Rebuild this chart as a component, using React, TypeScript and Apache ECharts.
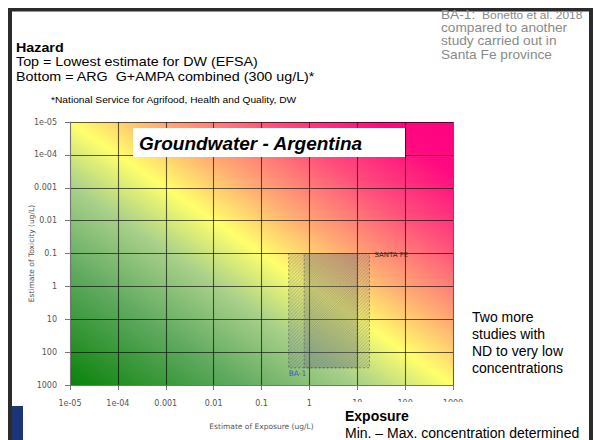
import React, { useEffect, useRef } from 'react';
import * as echarts from 'echarts';

// ---- data ----
const TICK_LABELS = ['1e-05', '1e-04', '0.001', '0.01', '0.1', '1', '10', '100', '1000'];
const AXIS_MIN = 1e-5;
const AXIS_MAX = 1000;

const STUDIES = ['BA-1', 'SANTA FE'];
const EXPOSURE_MIN = [0.37, 0.78];
const EXPOSURE_MAX = [10, 18];
const TOXICITY_MIN = [0.1, 0.1];
const TOXICITY_MAX = [300, 300];

const HAZARD_LINES = [
  'Top = Lowest estimate for DW (EFSA)',
  'Bottom = ARG  G+AMPA combined (300 ug/L)*',
];
const SOURCE_HEAD = 'BA-1:';
const SOURCE_REF = 'Bonetto et al. 2018';
const SOURCE_LINES = ['compared to another', 'study carried out in', 'Santa Fe province'];
const NOTE_LINES = ['Two more', 'studies with', 'ND to very low', 'concentrations'];

// ---- style ----
const GRADIENT_STOPS = [
  { offset: 0, color: '#0a820a' },
  { offset: 0.22, color: '#5fa95f' },
  { offset: 0.38, color: '#a9d08a' },
  { offset: 0.5, color: '#ffff6c' },
  { offset: 0.62, color: '#ffa874' },
  { offset: 0.76, color: '#ff4f7c' },
  { offset: 0.9, color: '#ff0a80' },
  { offset: 1, color: '#ff0080' },
];
const SLIDE_FONT = '"Liberation Sans", Arial, sans-serif';
const PLOT_FONT = '"DejaVu Sans", sans-serif';
const FRAME_COLOR = '#2b2b2b';

function tickLabel(v: number) {
  const e = Math.round(Math.log10(v));
  return TICK_LABELS[e + 5] ?? '';
}

export default function App() {
  const ref = useRef<HTMLDivElement>(null);

  useEffect(() => {
    if (!ref.current) return;
    const chart = echarts.init(ref.current, undefined, { renderer: 'svg' });

    const axisCommon = {
      type: 'log' as const,
      logBase: 10,
      min: AXIS_MIN,
      max: AXIS_MAX,
      splitNumber: 8,
      z: 3,
      axisLine: { show: true, onZero: false, lineStyle: { color: '#777', width: 1 } },
      axisTick: { show: true, length: 5, lineStyle: { color: '#777' } },
      minorTick: { show: false },
      splitLine: { show: true, lineStyle: { color: 'rgba(0,0,0,0.62)', width: 1.1 } },
      axisLabel: {
        formatter: tickLabel,
        color: '#555',
        fontSize: 8,
        fontFamily: PLOT_FONT,
        showMinLabel: true,
        showMaxLabel: true,
      },
      nameLocation: 'middle' as const,
      nameMoveOverlap: false,
      nameTextStyle: { color: '#555', fontSize: 7.5, fontFamily: PLOT_FONT },
    };

    const rectData = STUDIES.map((s, i) => [
      EXPOSURE_MIN[i],
      EXPOSURE_MAX[i],
      TOXICITY_MIN[i],
      TOXICITY_MAX[i],
      i,
    ]);

    const textEl = (
      x: number,
      y: number,
      text: string,
      fontSize: number,
      opts: any = {},
    ) => ({
      type: 'text',
      x,
      y,
      z: 20,
      scaleX: opts.scaleX ?? 1,
      style: {
        x: 0,
        y: 0,
        text,
        fill: opts.fill ?? '#000',
        fontSize,
        fontFamily: SLIDE_FONT,
        fontWeight: opts.fontWeight ?? 'normal',
        fontStyle: opts.fontStyle ?? 'normal',
        align: 'left',
        verticalAlign: 'middle',
        textAlign: 'left',
        textVerticalAlign: 'middle',
      },
    });

    const frameRect = (x: number, y: number, width: number, height: number) => ({
      type: 'rect',
      z: 12,
      shape: { x, y, width, height },
      style: { fill: FRAME_COLOR },
    });

    const graphics: any[] = [
      // slide frame
      frameRect(8, 8, 585, 3.5),
      frameRect(8, 8, 4, 432),
      frameRect(589, 8, 4, 432),
      // logo fragment
      {
        type: 'rect',
        z: 30,
        shape: { x: 12, y: 406, width: 11, height: 34 },
        style: { fill: '#1d3577' },
      },
      // white box behind Exposure text
      {
        type: 'rect',
        z: 15,
        shape: { x: 340, y: 402, width: 249, height: 38 },
        style: { fill: '#fff' },
      },
      // title box
      {
        type: 'rect',
        z: 15,
        shape: { x: 133, y: 128, width: 272, height: 29 },
        style: { fill: '#fff' },
      },
      textEl(139, 143, 'Groundwater - Argentina', 19, {
        fontWeight: 'bold',
        fontStyle: 'italic',
      }),
      textEl(16, 47.5, 'Hazard', 13, { fontWeight: 'bold', scaleX: 1.1 }),
      ...HAZARD_LINES.map((t, i) => textEl(16, 62 + i * 14.7, t, 13, { scaleX: 1.1 })),
      textEl(51, 100, '*National Service for Agrifood, Health and Quality, DW', 9.3, {
        scaleX: 1.1,
      }),
      textEl(441, 15, SOURCE_HEAD, 12, { fill: '#8a8a8a', scaleX: 1.14 }),
      textEl(482, 15.5, SOURCE_REF, 10.5, { fill: '#8a8a8a', scaleX: 1.14 }),
      ...SOURCE_LINES.map((t, i) =>
        textEl(441, 28 + i * 13.2, t, 12, { fill: '#8a8a8a', scaleX: 1.14 }),
      ),
      ...NOTE_LINES.map((t, i) => textEl(472, 316.7 + i * 17, t, 14)),
      textEl(345, 416, 'Exposure', 14, { fontWeight: 'bold' }),
      textEl(345, 432.5, 'Min. \u2013 Max. concentration determined', 14),
    ];

    const option: any = {
      animation: false,
      backgroundColor: '#fff',
      grid: { left: 70, right: 141, top: 122, bottom: 55, show: false },
      xAxis: {
        ...axisCommon,
        name: 'Estimate of Exposure (ug/L)',
        nameGap: 37,
        axisLabel: { ...axisCommon.axisLabel, margin: 14 },
      },
      yAxis: {
        ...axisCommon,
        inverse: true,
        name: 'Estimate of Toxicity (ug/L)',
        nameGap: 35,
        axisLabel: { ...axisCommon.axisLabel, margin: 13 },
      },
      graphic: { elements: graphics },
      series: [
        {
          type: 'custom',
          z: 1,
          silent: true,
          data: [[AXIS_MIN, AXIS_MIN]],
          encode: { x: 0, y: 1 },
          renderItem: (_params: any, api: any) => {
            const bl = api.coord([AXIS_MIN, AXIS_MAX]);
            const tr = api.coord([AXIS_MAX, AXIS_MIN]);
            const x = bl[0];
            const y = tr[1];
            const w = tr[0] - bl[0];
            const h = bl[1] - tr[1];
            const cx = x + w / 2;
            const cy = y + h / 2;
            const k = (w * h) / (w * w + h * h);
            const dx = k * h;
            const dy = -k * w;
            return {
              type: 'rect',
              shape: { x, y, width: w, height: h },
              style: {
                fill: new echarts.graphic.LinearGradient(
                  cx - dx,
                  cy - dy,
                  cx + dx,
                  cy + dy,
                  GRADIENT_STOPS,
                  true,
                ),
              },
            };
          },
        },
        {
          type: 'custom',
          z: 5,
          silent: true,
          data: rectData,
          encode: { x: [0, 1], y: [2, 3] },
          renderItem: (_params: any, api: any) => {
            const i = api.value(4);
            const p0 = api.coord([api.value(0), api.value(2)]);
            const p1 = api.coord([api.value(1), api.value(3)]);
            const L = Math.min(p0[0], p1[0]);
            const R = Math.max(p0[0], p1[0]);
            const T = Math.min(p0[1], p1[1]);
            const B = Math.max(p0[1], p1[1]);
            const children: any[] = [
              {
                type: 'rect',
                shape: { x: L, y: T, width: R - L, height: B - T },
                style: { fill: 'rgba(105,110,135,0.16)' },
              },
            ];
            const step = 3.4;
            for (let c = L + T + step / 2; c < R + B; c += step) {
              const x1 = Math.max(L, c - B);
              const x2 = Math.min(R, c - T);
              if (x2 > x1) {
                children.push({
                  type: 'line',
                  shape: { x1, y1: c - x1, x2, y2: c - x2 },
                  style: { stroke: 'rgba(70,70,80,0.3)', lineWidth: 0.7 },
                });
              }
            }
            children.push({
              type: 'rect',
              shape: { x: L, y: T, width: R - L, height: B - T },
              style: {
                fill: 'none',
                stroke: 'rgba(60,60,90,0.6)',
                lineWidth: 0.8,
                lineDash: [2, 2],
              },
            });
            const name = STUDIES[i];
            if (i === 0) {
              children.push({
                type: 'text',
                style: {
                  x: L,
                  y: B + 2,
                  text: name,
                  fill: '#3a5cc8',
                  fontSize: 7.5,
                  fontFamily: PLOT_FONT,
                  align: 'left',
                  verticalAlign: 'top',
                },
              });
            } else {
              children.push({
                type: 'text',
                style: {
                  x: R + 5,
                  y: T + 1,
                  text: name,
                  fill: '#3a2a2a',
                  fontSize: 7,
                  fontFamily: PLOT_FONT,
                  align: 'left',
                  verticalAlign: 'middle',
                },
              });
            }
            return { type: 'group', children };
          },
        },
      ],
    };

    chart.setOption(option);
    return () => chart.dispose();
  }, []);

  return (
    <div
      ref={ref}
      style={{ position: 'absolute', left: 0, top: 0, width: 594, height: 440 }}
    />
  );
}
